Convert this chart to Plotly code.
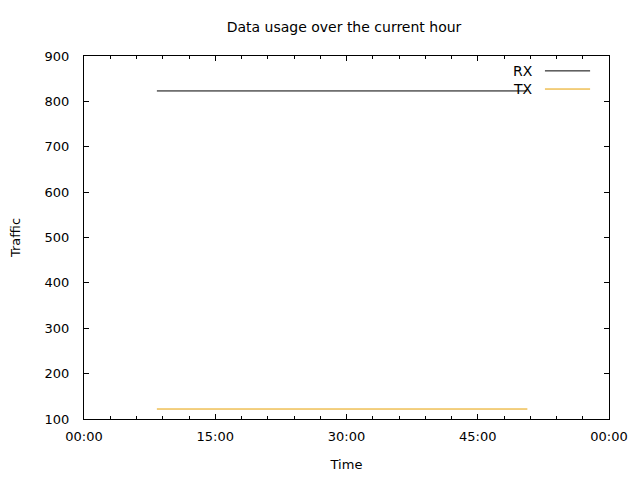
import plotly.graph_objects as go

# data: minutes into the hour
time_min = [8.33, 50.67]
rx = [823, 823]
tx = [122, 122]
tick_vals = [0, 15, 30, 45, 60]
tick_text = ["00:00", "15:00", "30:00", "45:00", "00:00"]
series_names = ["RX", "TX"]
series_colors = ["#000000", "#e69f00"]

font = "DejaVu Sans, Liberation Sans, sans-serif"
tfont = dict(family=font, size=13, color="black")
bigfont = dict(family=font, size=14, color="black")

fig = go.Figure()
for name, vals, col in zip(series_names, [rx, tx], series_colors):
    fig.add_trace(go.Scatter(x=time_min, y=vals, mode="lines", name=name,
                             line=dict(color=col, width=1), showlegend=False))

axis_common = dict(showline=True, linecolor="black", linewidth=1, mirror="allticks",
                   ticks="inside", ticklen=5, tickcolor="black", showgrid=False,
                   zeroline=False, tickfont=tfont, automargin=False)

fig.update_xaxes(range=[0, 60], tickvals=tick_vals, ticktext=tick_text, ticklabelstandoff=5,
                 minor=dict(ticks="inside", dtick=3, tick0=0, ticklen=3, tickcolor="black", showgrid=False),
                 title=dict(text="Time", font=tfont, standoff=17),
                 **axis_common)
fig.update_yaxes(range=[100, 900], dtick=100, tick0=100, ticklabelstandoff=11,
                 title=dict(text="Traffic", font=tfont, standoff=28),
                 **axis_common)

# gnuplot-style key: label left of sample line
key_y = [0.959, 0.909]
for name, col, yy in zip(series_names, series_colors, key_y):
    fig.add_annotation(xref="paper", yref="paper", x=0.856, y=yy, text=name, showarrow=False,
                       xanchor="right", yanchor="middle", xshift=2,
                       font=bigfont)
    fig.add_shape(type="line", xref="paper", yref="paper", x0=0.878, x1=0.964, y0=yy, y1=yy,
                  line=dict(color=col, width=1))

fig.update_layout(width=640, height=480, margin=dict(l=76, r=39, t=48, b=69),
                  paper_bgcolor="white", plot_bgcolor="white",
                  title=dict(text="Data usage over the current hour", x=0.525, xanchor="center",
                             y=0.96, yanchor="middle", font=bigfont))

fig.write_html("out.html")
